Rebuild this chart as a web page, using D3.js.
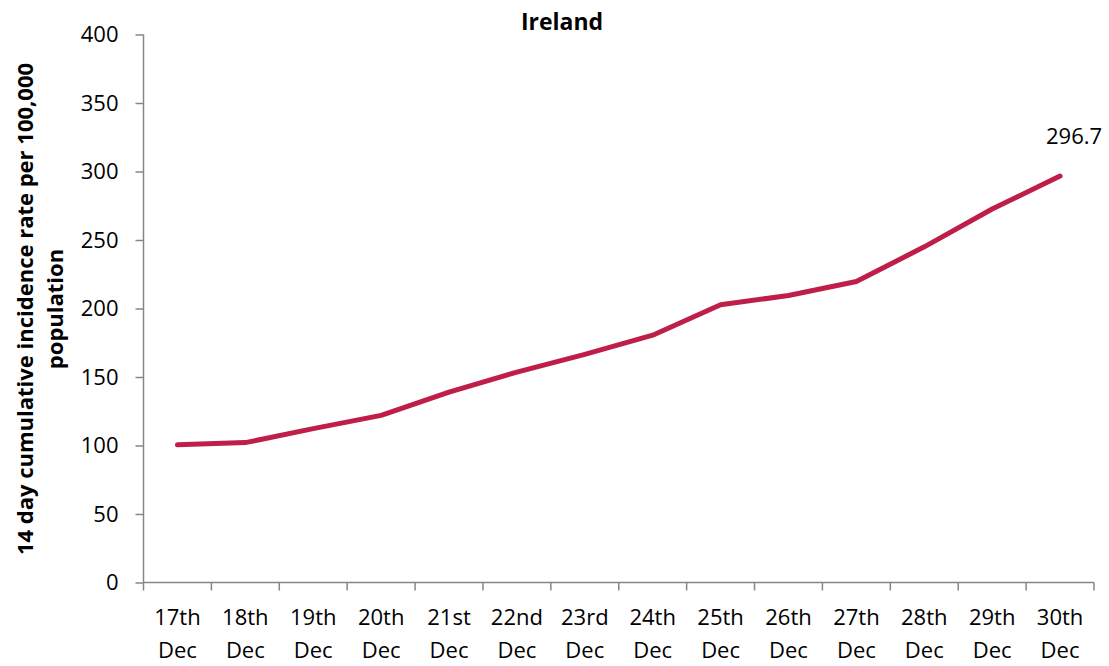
<!DOCTYPE html>
<html><head><meta charset="utf-8">
<script src="https://cdn.jsdelivr.net/npm/d3@7"></script>
<style>body{margin:0;background:#fff}svg{display:block}</style>
</head><body>
<svg id="c" width="1109" height="666"></svg>
<script>
const categories = ["17th Dec","18th Dec","19th Dec","20th Dec","21st Dec","22nd Dec","23rd Dec","24th Dec","25th Dec","26th Dec","27th Dec","28th Dec","29th Dec","30th Dec"];
const values = [100.5, 102.1, 112.3, 122.0, 139.0, 153.6, 166.5, 180.5, 202.7, 209.5, 219.7, 245.0, 272.6, 296.7];
const yTicks = [0,50,100,150,200,250,300,350,400];
const title = "Ireland";
const yTitle = ["14 day cumulative incidence rate per 100,000", "population"];

const font = "'Open Sans', sans-serif";
const svg = d3.select("#c");
const L = 143.5, R = 1094, T = 34.5, B = 582.5;
const x = d3.scaleBand().domain(categories).range([L, R]);
const y = d3.scaleLinear().domain([0, 400]).range([B, T]);
const axisColor = "#868686";

// Y axis
const ya = svg.append("g").attr("transform", `translate(${L},0)`)
  .call(d3.axisLeft(y).tickValues(yTicks).tickSize(8).tickPadding(17));
ya.selectAll("path,line").attr("stroke", axisColor).attr("stroke-width", 1.5);
ya.select(".domain").attr("d", `M0,${T}V${B}`);
ya.selectAll("text").attr("font-family", font).attr("font-size", 22).attr("fill", "#000");

// X axis
const xa = svg.append("g").attr("transform", `translate(0,${B})`)
  .call(d3.axisBottom(x).tickSize(0).tickFormat(""));
xa.selectAll("path").attr("stroke", axisColor).attr("stroke-width", 1.5);
xa.select(".domain").attr("d", `M${L},0H${R}`);
const bounds = categories.map(c => x(c)).concat([R]);
svg.append("g").selectAll("line").data(bounds).join("line")
  .attr("x1", d => d).attr("x2", d => d).attr("y1", B).attr("y2", B + 8)
  .attr("stroke", axisColor).attr("stroke-width", 1.5);
const xl = svg.append("g").selectAll("text").data(categories).join("text")
  .attr("x", d => x(d) + x.bandwidth() / 2)
  .attr("text-anchor", "middle").attr("font-family", font).attr("font-size", 22).attr("fill", "#000");
xl.append("tspan").attr("x", d => x(d) + x.bandwidth() / 2).attr("y", 625).text(d => d.split(" ")[0]);
xl.append("tspan").attr("x", d => x(d) + x.bandwidth() / 2).attr("y", 658).text(d => d.split(" ")[1]);

// Line
const line = d3.line().x((d, i) => x(categories[i]) + x.bandwidth() / 2).y(d => y(d));
svg.append("path").datum(values).attr("d", line)
  .attr("fill", "none").attr("stroke", "#BE1E48").attr("stroke-width", 5)
  .attr("stroke-linecap", "round").attr("stroke-linejoin", "round");

// Data label on last point
const li = values.length - 1;
svg.append("text").attr("x", x(categories[li]) + x.bandwidth() / 2 + 14).attr("y", y(values[li]) - 32)
  .attr("text-anchor", "middle").attr("font-family", font).attr("font-size", 22).attr("fill", "#000")
  .text(values[li].toFixed(1));

// Title
svg.append("text").attr("x", 562).attr("y", 30).attr("text-anchor", "middle")
  .attr("font-family", font).attr("font-size", 23).attr("font-weight", "bold").text(title);

// Y title
const yt = svg.append("text").attr("transform", "translate(0,309) rotate(-90)")
  .attr("text-anchor", "middle").attr("font-family", font).attr("font-size", 22).attr("font-weight", "bold");
yt.append("tspan").attr("x", 0).attr("y", 33).text(yTitle[0]);
yt.append("tspan").attr("x", 0).attr("y", 63).text(yTitle[1]);
</script>
</body></html>
